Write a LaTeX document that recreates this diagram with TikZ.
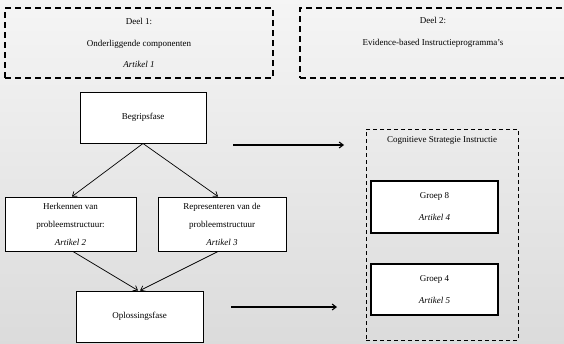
\documentclass[tikz,border=0pt]{standalone}
\usepackage{fontspec}
\setmainfont{Liberation Serif}
\usetikzlibrary{arrows.meta}

\tikzset{
	deelbox/.style={draw, line width=1.3pt, dash pattern=on 6pt off 4pt, align=center, inner sep=0pt, font=\fontsize{9}{21.5}\selectfont},
	fasebox/.style={draw, fill=white, line width=1pt, align=center, inner sep=0pt, font=\fontsize{9}{18}\selectfont},
	groepbox/.style={fasebox, line width=1.4pt, font=\fontsize{9}{22}\selectfont},
	pijl/.style={-{Straight Barb[length=4pt,width=6pt]}, line width=0.7pt},
	dikpijl/.style={pijl, line width=1.1pt}
}

\begin{document}
\begin{tikzpicture}[x=1pt, y=-1pt]
\useasboundingbox (0,0) rectangle (564,343);
\fill[top color=gray!8, bottom color=gray!28] (0,0) rectangle (564,343);

% bovenste kaders
\node[deelbox, minimum width=268pt, minimum height=70pt] (deel1) at (139,43)
	{Deel 1:\\Onderliggende componenten\\\textit{Artikel 1}};
\node[deelbox, minimum width=266pt, minimum height=70pt] (deel2) at (433,43)
	{Deel 2:\\Evidence-based Instructieprogramma's\\\vphantom{Ag}};

% fasen
\node[fasebox, minimum width=126pt, minimum height=51pt] (begrip) at (143,117.5) {Begripsfase};
\node[fasebox, minimum width=131pt, minimum height=54pt] (herken) at (70.5,224)
	{Herkennen van\\probleemstructuur:\\\textit{Artikel 2}};
\node[fasebox, minimum width=128pt, minimum height=54pt] (repres) at (222,224)
	{Representeren van de\\probleemstructuur\\\textit{Artikel 3}};
\node[fasebox, minimum width=127pt, minimum height=51pt] (oplos) at (139.5,316.5) {Oplossingsfase};

\draw[pijl] (begrip.south) -- ([xshift=1.5pt]herken.north);
\draw[pijl] (begrip.south) -- ([xshift=-4pt]repres.north);
\draw[pijl] ([xshift=2.5pt]herken.south) -- ([xshift=-1.5pt]oplos.north);
\draw[pijl] ([xshift=-4pt]repres.south) -- ([xshift=0.5pt]oplos.north);

% instructie
\node[draw, line width=0.9pt, dash pattern=on 4pt off 3pt, minimum width=152pt, minimum height=211pt] (csi) at (442,234.5) {};
\node[font=\fontsize{9}{11}\selectfont] (csititel) at (442,140) {Cognitieve Strategie Instructie};
\node[groepbox, minimum width=127pt, minimum height=52pt] (groep8) at (434.5,207)
	{Groep 8\\\textit{Artikel 4}};
\node[groepbox, minimum width=127pt, minimum height=51pt] (groep4) at (434.5,289.5)
	{Groep 4\\\textit{Artikel 5}};

\coordinate (p1) at (233,145);
\coordinate (q1) at (344,145);
\coordinate (p2) at (231,307);
\coordinate (q2) at (337,307);
\draw[dikpijl] (p1) -- (q1);
\draw[dikpijl] (p2) -- (q2);
\end{tikzpicture}
\end{document}
